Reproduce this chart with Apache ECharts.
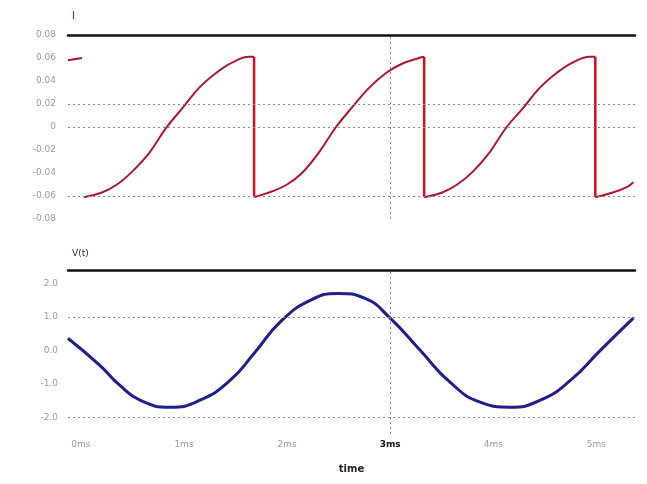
<!DOCTYPE html>
<html>
<head>
<meta charset="utf-8">
<script src="https://cdn.jsdelivr.net/npm/echarts@6/dist/echarts.min.js"></script>
<style>
  html, body { margin: 0; padding: 0; background: #ffffff; }
  #chart { width: 647px; height: 484px; }
</style>
</head>
<body>
<div id="chart"></div>
<script>
// Time axis (ms) and its labelled ticks
const timeTicks = [0, 1, 2, 3, 4, 5];
const cursorTime = 3;

// Current trace, ramp portions (null separates the ramps)
const currentTime = [
  -0.126, 0.010, null,
  0.029, 0.204, 0.350, 0.495, 0.660, 0.825, 0.981, 1.146, 1.311, 1.466, 1.631, 1.680, null,
  1.680, 1.855, 2.000, 2.145, 2.310, 2.475, 2.630, 2.795, 2.960, 3.115, 3.280, 3.330, null,
  3.330, 3.505, 3.650, 3.800, 3.965, 4.130, 4.285, 4.450, 4.615, 4.770, 4.940, 4.990, null,
  4.990, 5.160, 5.300, 5.359
];
const currentValue = [
  0.058, 0.060, null,
  -0.061, -0.057, -0.050, -0.039, -0.023, -0.001, 0.016, 0.034, 0.047, 0.056, 0.061, 0.061, null,
  -0.061, -0.056, -0.050, -0.040, -0.022, 0.000, 0.017, 0.034, 0.047, 0.055, 0.060, 0.061, null,
  -0.061, -0.057, -0.050, -0.039, -0.022, 0.000, 0.016, 0.034, 0.047, 0.056, 0.061, 0.061, null,
  -0.061, -0.057, -0.052, -0.048
];

// Current trace, snap-back instants and the levels it jumps between
const resetTime = [1.680, 3.330, 4.990];
const resetHigh = [0.061, 0.061, 0.061];
const resetLow = [-0.061, -0.061, -0.061];

// Voltage trace
const voltageTime = [
  -0.126, 0.184, 0.379, 0.573, 0.864, 1.155, 1.447, 1.689, 1.932, 2.223, 2.495,
  2.757, 3.000, 3.291, 3.583, 3.874, 4.165, 4.456, 4.748, 5.039, 5.359
];
const voltageValue = [
  0.36, -0.45, -1.05, -1.49, -1.70, -1.49, -0.90, -0.06, 0.84, 1.49, 1.70,
  1.55, 0.96, 0.00, -0.96, -1.55, -1.70, -1.49, -0.90, 0.00, 0.96
];

// Dotted reference levels in each panel
const currentLevels = [0.02, 0, -0.06];
const voltageLevels = [1, -2];

const zip = (xs, ys) => xs.map((x, i) => (x === null ? [null, null] : [x, ys[i]]));
const resetData = [];
resetTime.forEach((t, i) => {
  resetData.push([t, resetHigh[i]], [t, resetLow[i]], [null, null]);
});

const gray = '#9a9a9a';
const dotted = { color: '#8a8a8a', width: 1, type: [2, 3] };
const labelFont = { color: gray, fontSize: 9, fontFamily: 'DejaVu Sans' };

const refLines = (levels) => ({
  silent: true,
  symbol: 'none',
  label: { show: false },
  lineStyle: dotted,
  data: levels.map(v => ({ yAxis: v })).concat([{ xAxis: cursorTime }])
});

// Heavy black rule along the top edge of a panel
const topRule = (gridIndex) => ({
  type: 'value', gridIndex, position: 'top',
  min: -0.125, max: 5.375,
  axisLine: { show: true, onZero: false, lineStyle: { color: '#111', width: 2.5 } },
  axisTick: { show: false }, axisLabel: { show: false }, splitLine: { show: false }
});

const chart = echarts.init(document.getElementById('chart'), null, { renderer: 'canvas' });

chart.setOption({
  animation: false,
  backgroundColor: '#ffffff',
  title: [
    { text: 'I', left: 67, top: 6, textStyle: { color: '#a0102a', fontSize: 10, fontWeight: 'normal', fontFamily: 'DejaVu Sans' } },
    { text: 'V(t)', left: 67, top: 244, textStyle: { color: '#2a2a6a', fontSize: 9, fontWeight: 'normal', fontFamily: 'DejaVu Sans' } }
  ],
  grid: [
    { left: 68, right: 12, top: 35, height: 184 },
    { left: 68, right: 12, top: 270, height: 164 }
  ],
  xAxis: [
    topRule(0),
    {
      type: 'value', gridIndex: 1, position: 'bottom',
      min: -0.125, max: 5.375, interval: 0.125,
      name: 'time', nameLocation: 'middle', nameGap: 30,
      nameTextStyle: { color: '#222', fontSize: 10, fontWeight: 'bold', fontFamily: 'DejaVu Sans' },
      axisLine: { show: false, onZero: false }, axisTick: { show: false }, splitLine: { show: false },
      axisLabel: {
        ...labelFont, margin: 6,
        formatter: v => {
          const r = Math.round(v * 1000) / 1000;
          if (!timeTicks.includes(r)) return '';
          return r === cursorTime ? '{b|' + r + 'ms}' : r + 'ms';
        },
        rich: { b: { color: '#111', fontWeight: 'bold', fontSize: 9, fontFamily: 'DejaVu Sans' } }
      }
    },
    topRule(1)
  ],
  yAxis: [
    {
      type: 'value', gridIndex: 0,
      min: -0.08, max: 0.08, interval: 0.02,
      axisLine: { show: false }, axisTick: { show: false }, splitLine: { show: false },
      axisLabel: {
        ...labelFont, margin: 12,
        formatter: v => Math.abs(v) < 1e-9 ? '0' : v.toFixed(2)
      }
    },
    {
      type: 'value', gridIndex: 1,
      min: -2.5, max: 2.4, interval: 0.5,
      axisLine: { show: false }, axisTick: { show: false }, splitLine: { show: false },
      axisLabel: {
        ...labelFont, margin: 10,
        formatter: v => Math.abs(v - Math.round(v)) < 1e-9 ? v.toFixed(1) : ''
      }
    }
  ],
  series: [
    {
      name: 'I', type: 'line', xAxisIndex: 0, yAxisIndex: 0,
      data: zip(currentTime, currentValue),
      showSymbol: false, connectNulls: false, smooth: 0.4,
      lineStyle: { color: '#b01430', width: 2 },
      itemStyle: { color: '#b01430' },
      markLine: refLines(currentLevels)
    },
    {
      name: 'I reset', type: 'line', xAxisIndex: 0, yAxisIndex: 0,
      data: resetData,
      showSymbol: false, connectNulls: false,
      lineStyle: { color: '#d0101e', width: 2.5 },
      itemStyle: { color: '#d0101e' }
    },
    {
      name: 'V(t)', type: 'line', xAxisIndex: 1, yAxisIndex: 1,
      data: zip(voltageTime, voltageValue),
      showSymbol: false, smooth: true,
      lineStyle: { color: '#1e1e8c', width: 3 },
      itemStyle: { color: '#1e1e8c' },
      markLine: refLines(voltageLevels)
    }
  ]
});
</script>
</body>
</html>
